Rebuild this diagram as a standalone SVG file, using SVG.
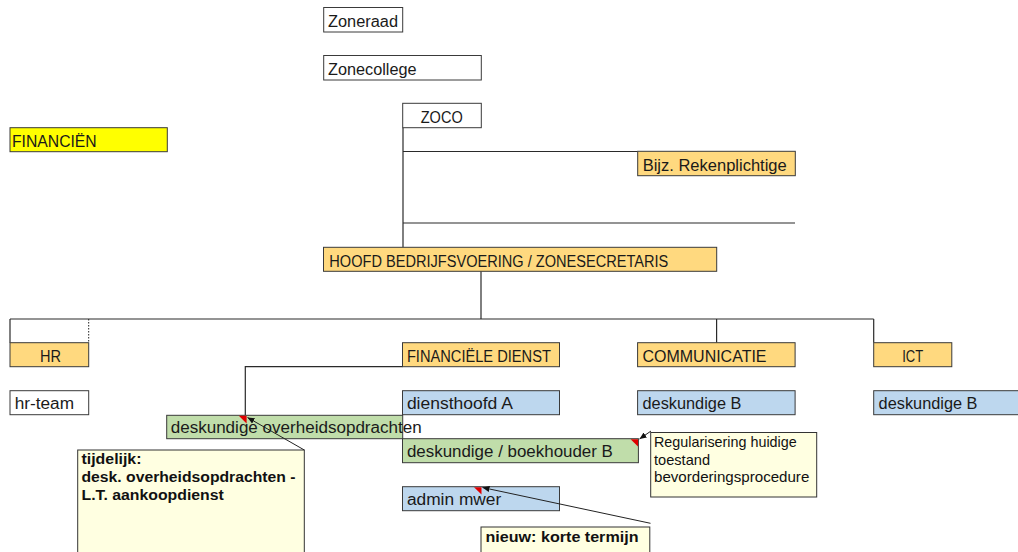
<svg xmlns="http://www.w3.org/2000/svg" width="1018" height="552" viewBox="0 0 1018 552">
<defs>
<style>
.box{stroke:#3a3a3a;stroke-width:1}
.w{fill:#ffffff}
.y{fill:#ffff00}
.o{fill:#ffd97f}
.b{fill:#bdd7ee}
.g{fill:#c0ddaa}
.note{fill:#ffffe1;stroke:#333;stroke-width:1}
.t{font-family:"Liberation Sans",Arial,sans-serif;font-size:16px;fill:#1a1a1a}
.nt{font-family:"Liberation Sans",Arial,sans-serif;font-size:15px;fill:#111}
.nb{font-family:"Liberation Sans",Arial,sans-serif;font-size:14.5px;font-weight:bold;fill:#111}
.ln{stroke:#2a2a2a;stroke-width:1.2;fill:none}
.ind{fill:#e00000}
.ar{stroke:#222;stroke-width:1;fill:none}
</style>
<marker id="ah" markerWidth="8" markerHeight="8" refX="7" refY="4" orient="auto" markerUnits="userSpaceOnUse">
<path d="M0,1 L7,4 L0,7 z" fill="#111"/>
</marker>
</defs>
<rect width="1018" height="552" fill="#ffffff"/>

<g id="connectors">
<path class="ln" d="M403,127.7 V247.3"/>
<path class="ln" d="M403,151.5 H637.7"/>
<path class="ln" d="M403,223 H795"/>
<path class="ln" d="M481,271.3 V319"/>
<path class="ln" d="M10,319 H873.7"/>
<path class="ln" d="M10,319 V342.7"/>
<path d="M88.7,319 V342.7" stroke="#222" stroke-width="1" stroke-dasharray="1.5,1.5"/>
<path class="ln" d="M716.6,319 V342.7"/>
<path class="ln" d="M873.7,319 V342.7"/>
<path class="ln" d="M402.5,366.7 H245.3 V415.3"/>
</g>

<g id="zoneraad"><rect class="box w" x="323.7" y="7.5" width="79" height="24.5"/><text class="t" x="328" y="27" textLength="70" lengthAdjust="spacingAndGlyphs">Zoneraad</text></g>
<g id="zonecollege"><rect class="box w" x="323.7" y="55.5" width="157.6" height="24.5"/><text class="t" x="328" y="75" textLength="88.5" lengthAdjust="spacingAndGlyphs">Zonecollege</text></g>
<g id="zoco"><rect class="box w" x="402.7" y="103.3" width="78.6" height="24.4"/><text class="t" x="420.7" y="123" textLength="42" lengthAdjust="spacingAndGlyphs">ZOCO</text></g>
<g id="financien"><rect class="box y" x="10" y="127.7" width="157.3" height="24"/><text class="t" x="12" y="146.7" textLength="84.7" lengthAdjust="spacingAndGlyphs">FINANCIËN</text></g>
<g id="rekenplichtige"><rect class="box o" x="637.7" y="151.3" width="157.6" height="24.4"/><text class="t" x="642.7" y="171" textLength="144" lengthAdjust="spacingAndGlyphs">Bijz. Rekenplichtige</text></g>
<g id="hoofd"><rect class="box o" x="323.5" y="247.3" width="393.2" height="24"/><text class="t" x="329.3" y="266.7" textLength="339" lengthAdjust="spacingAndGlyphs">HOOFD BEDRIJFSVOERING / ZONESECRETARIS</text></g>

<g id="hr"><rect class="box o" x="10" y="342.7" width="78.7" height="24"/><text class="t" x="40" y="361.7" textLength="21" lengthAdjust="spacingAndGlyphs">HR</text></g>
<g id="hr-team"><rect class="box w" x="10" y="390.7" width="78.7" height="24"/><text class="t" x="14.7" y="409.3" textLength="59.3" lengthAdjust="spacingAndGlyphs">hr-team</text></g>
<g id="financiele-dienst"><rect class="box o" x="402.5" y="342.7" width="157" height="24"/><text class="t" x="406.9" y="361.7" textLength="144" lengthAdjust="spacingAndGlyphs">FINANCIËLE DIENST</text></g>
<g id="communicatie"><rect class="box o" x="637.6" y="342.7" width="157.5" height="24"/><text class="t" x="642.5" y="361.7" textLength="124" lengthAdjust="spacingAndGlyphs">COMMUNICATIE</text></g>
<g id="ict"><rect class="box o" x="873.7" y="342.7" width="78.1" height="24"/><text class="t" x="902.2" y="361.7" textLength="21" lengthAdjust="spacingAndGlyphs">ICT</text></g>

<g id="diensthoofd"><rect class="box b" x="402.5" y="390.7" width="157" height="24"/><text class="t" x="406.9" y="409.3" textLength="106" lengthAdjust="spacingAndGlyphs">diensthoofd A</text></g>
<g id="comm-deskundige"><rect class="box b" x="637.6" y="390.7" width="157.5" height="24"/><text class="t" x="642.5" y="409.3" textLength="98.9" lengthAdjust="spacingAndGlyphs">deskundige B</text></g>
<g id="ict-deskundige"><rect class="box b" x="873.7" y="390.7" width="150" height="24"/><text class="t" x="878.6" y="409.3" textLength="98.9" lengthAdjust="spacingAndGlyphs">deskundige B</text></g>

<g id="overheidsopdrachten"><rect class="box g" x="166.7" y="415.3" width="236" height="23.4"/><text class="t" x="170.7" y="432.7" textLength="251" lengthAdjust="spacingAndGlyphs">deskundige overheidsopdrachten</text><path class="ind" d="M238.8,415.8 H246.6 V423.4 z"/></g>
<g id="boekhouder"><rect class="box g" x="402.5" y="438.7" width="235.9" height="24"/><text class="t" x="406.9" y="457.3" textLength="206" lengthAdjust="spacingAndGlyphs">deskundige / boekhouder B</text><path class="ind" d="M630.6,439.2 H638 V446.6 z"/></g>
<g id="admin"><rect class="box b" x="402.5" y="486.7" width="157" height="24"/><text class="t" x="406.9" y="505" textLength="94.4" lengthAdjust="spacingAndGlyphs">admin mwer</text><path class="ind" d="M474,487.2 H481.5 V494.6 z"/></g>

<g id="note-tijdelijk"><rect class="note" x="77.7" y="450" width="226.6" height="110"/><text class="nb" x="81.5" y="464"><tspan x="81.5" y="464" textLength="60" lengthAdjust="spacingAndGlyphs">tijdelijk:</tspan><tspan x="81.5" y="482" textLength="214" lengthAdjust="spacingAndGlyphs">desk. overheidsopdrachten -</tspan><tspan x="81.5" y="500.3" textLength="142.3" lengthAdjust="spacingAndGlyphs">L.T. aankoopdienst</tspan></text><path class="ar" d="M304.3,450 L247.5,417.5" marker-end="url(#ah)"/></g>
<g id="note-regularisering"><rect class="note" x="650.7" y="432.5" width="166" height="64.5"/><text class="nt" x="654" y="447"><tspan x="654" y="447" textLength="142.7" lengthAdjust="spacingAndGlyphs">Regularisering huidige</tspan><tspan x="654" y="464.5" textLength="56" lengthAdjust="spacingAndGlyphs">toestand</tspan><tspan x="654" y="482" textLength="155.3" lengthAdjust="spacingAndGlyphs">bevorderingsprocedure</tspan></text><path class="ar" d="M651,431 L639.5,439" marker-end="url(#ah)"/></g>
<g id="note-nieuw"><rect class="note" x="481" y="527" width="168.8" height="40"/><text class="nb" x="485.5" y="542" textLength="153" lengthAdjust="spacingAndGlyphs">nieuw: korte termijn</text><path class="ar" d="M650.5,523.3 L482.5,487.5" marker-end="url(#ah)"/></g>
</svg>
